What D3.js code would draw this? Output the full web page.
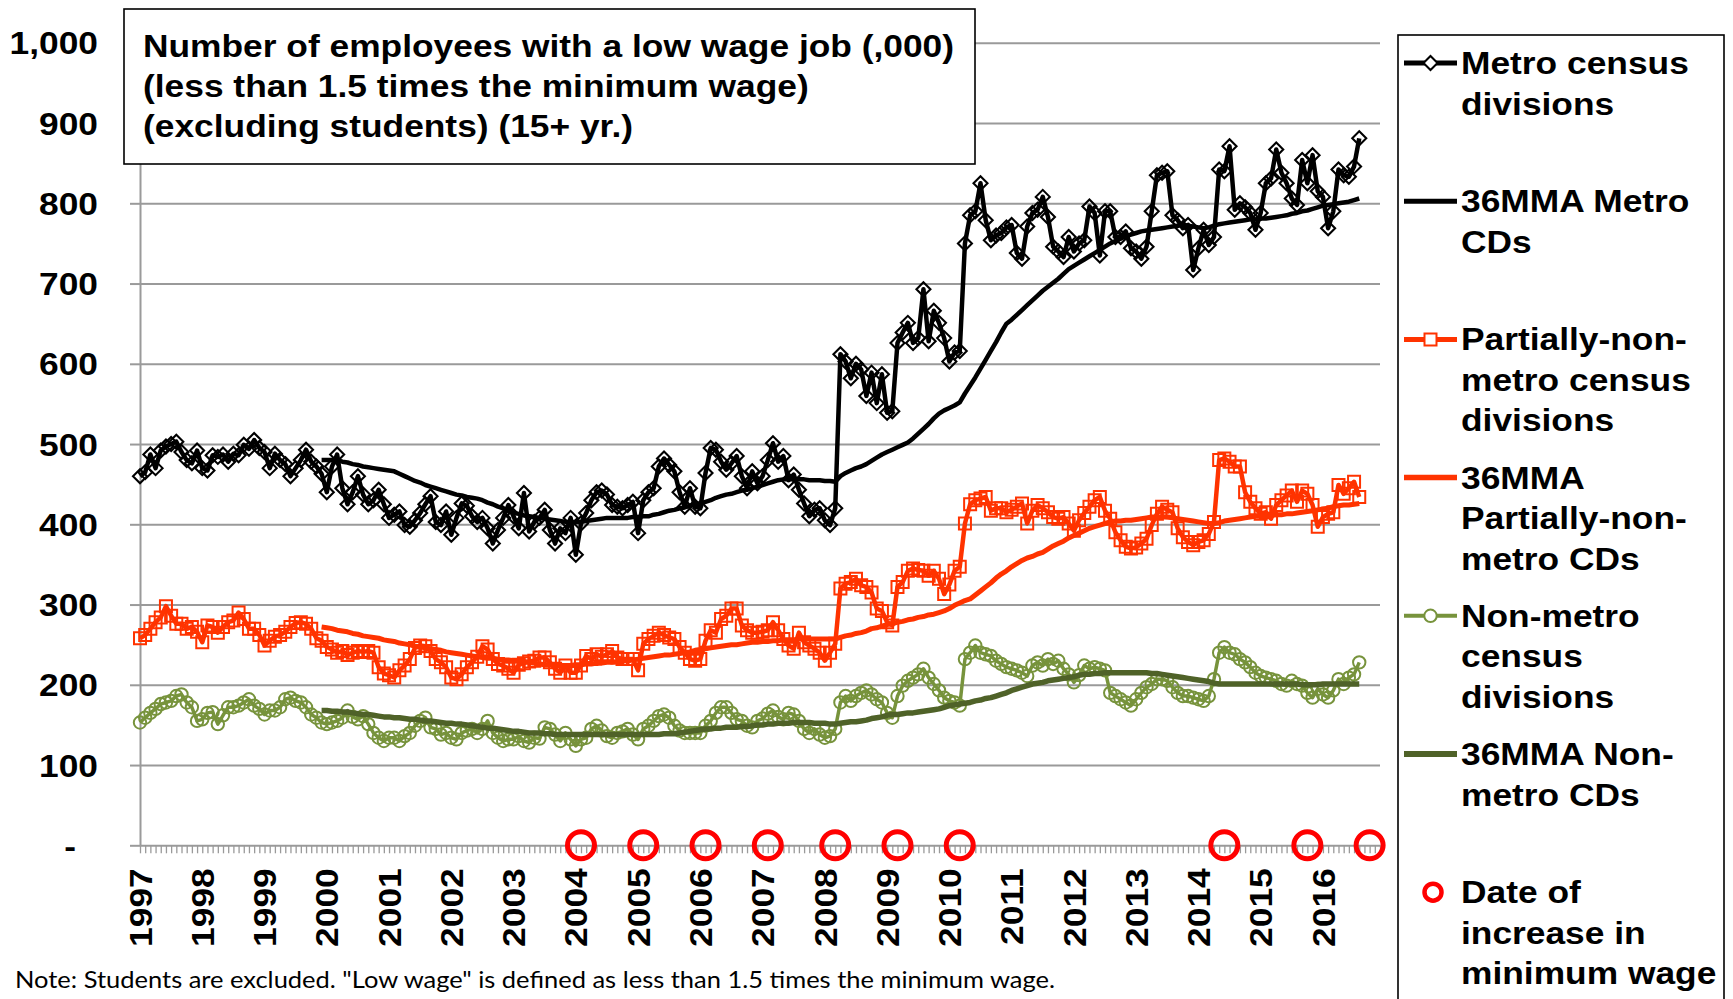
<!DOCTYPE html>
<html><head><meta charset="utf-8">
<script src="https://cdn.jsdelivr.net/npm/d3@7"></script>
<style>body{margin:0;background:#fff}svg{display:block}</style>
</head><body>
<script>
// ---------------- DATA ----------------
const years = [1997,1998,1999,2000,2001,2002,2003,2004,2005,2006,2007,2008,2009,2010,2011,2012,2013,2014,2015,2016];
const monthNums = ["01","02","03","04","05","06","07","08","09","10","11","12"];
const dataStartMonth = "1997-01";
const mmaStartMonth = "1999-12";
const yTicks = [0,100,200,300,400,500,600,700,800,900,1000];

const metro = [
 460,465,487,470,492,497,500,503,490,480,476,492,
 470,467,486,484,487,478,488,486,499,494,505,495,
 490,470,488,480,475,460,470,480,493,478,472,463,
 440,472,487,445,425,440,460,437,425,430,443,425,
 408,412,416,399,397,405,414,425,435,403,399,416,
 387,408,426,423,410,403,408,395,376,393,408,424,
 410,395,439,391,403,408,418,393,376,395,389,408,
 362,401,414,430,440,442,437,424,422,420,424,428,
 389,430,440,445,472,482,474,466,440,422,445,422,
 420,464,495,493,478,468,476,485,460,445,466,451,
 460,480,501,478,485,455,462,443,426,410,418,420,
 405,399,420,612,603,582,600,593,560,589,551,587,
 539,541,626,639,651,626,632,693,628,666,651,632,
 603,614,616,750,785,790,825,779,754,760,763,770,
 773,738,731,771,788,792,808,783,746,740,733,758,
 740,750,754,796,788,735,790,790,758,758,765,744,
 740,731,746,790,835,838,840,785,779,769,773,717,
 744,767,748,758,842,840,871,792,800,795,788,767,
 788,825,831,867,838,825,806,798,854,825,860,815,
 808,769,790,842,835,833,846,881];

const metroMMA = [
 480,480,480,480,478,
 477,475,474,472,471,470,469,468,467,466,
 463,460,457,454,452,449,447,445,443,441,
 439,437,436,434,433,432,430,427,425,422,
 420,417,414,413,411,410,409,408,407,406,
 405,404,403,403,403,403,404,405,406,407,
 408,408,408,408,408,409,409,410,410,412,
 413,415,417,418,420,421,423,425,426,428,
 430,433,435,437,438,440,442,443,445,447,
 449,451,453,455,456,456,456,456,456,455,
 455,455,454,454,453,460,464,467,470,472,
 475,479,483,487,490,493,496,499,502,507,
 513,519,525,532,538,542,545,548,552,563,
 573,583,594,605,616,627,639,650,655,661,
 667,673,679,685,691,696,701,706,712,718,
 722,726,730,734,738,742,746,750,753,756,
 759,761,763,765,766,767,768,769,770,771,
 772,773,772,771,770,769,770,772,774,775,
 776,777,778,779,780,780,781,781,782,783,
 784,785,787,788,790,791,793,795,797,798,
 799,800,801,802,804,806];

const partial = [
 258,262,270,278,284,298,286,276,276,270,272,266,
 253,274,272,265,272,278,280,290,282,270,270,262,
 249,255,260,262,266,272,277,278,276,270,258,255,
 247,244,240,242,237,240,242,241,242,240,222,214,
 212,209,218,224,232,246,249,248,242,232,228,222,
 209,207,213,222,228,235,248,244,232,226,224,220,
 215,225,227,229,230,234,234,228,220,215,224,215,
 215,224,236,232,238,235,238,242,234,232,232,232,
 218,251,257,261,265,262,259,257,247,240,232,230,
 232,255,268,265,282,286,295,295,274,268,265,265,
 266,268,278,268,257,249,245,265,253,249,245,240,
 230,240,251,320,326,328,332,324,322,315,295,292,
 278,274,322,328,342,345,343,342,336,342,332,313,
 325,342,347,401,425,430,432,434,417,420,420,415,
 418,422,426,401,417,424,420,415,409,407,409,401,
 392,405,414,422,430,434,417,407,390,380,372,370,
 371,376,382,399,413,422,418,415,395,384,378,374,
 378,380,388,403,480,482,478,472,472,440,428,420,
 413,415,407,424,430,436,442,428,442,438,424,397,
 409,413,415,449,438,445,453,434];

const partialMMA = [
 272,271,270,268,267,
 266,264,263,261,260,259,258,256,255,254,
 252,251,250,248,247,246,245,244,243,241,
 240,239,238,237,236,235,234,233,233,232,
 231,231,230,229,229,228,227,226,225,225,
 224,224,224,224,225,225,226,226,227,227,
 228,228,229,230,230,231,232,233,234,235,
 236,237,237,238,239,240,241,243,244,245,
 246,247,248,249,250,250,251,252,253,253,
 254,254,255,255,256,256,256,257,257,257,
 257,257,257,257,257,259,261,262,264,265,
 267,270,271,273,275,276,278,279,281,282,
 284,285,287,288,290,292,295,299,302,305,
 307,312,317,322,327,333,338,342,347,351,
 355,358,360,363,365,369,373,376,379,383,
 386,389,392,395,397,399,401,403,404,404,
 405,405,406,407,408,409,409,409,409,408,
 407,406,405,404,403,402,401,401,402,404,
 405,406,407,408,409,410,410,411,411,412,
 412,413,413,414,415,416,417,418,419,420,
 422,423,424,424,425,426];

const nonMetro = [
 153,159,165,170,176,178,180,186,188,178,172,155,
 157,165,166,151,162,172,172,174,178,182,174,170,
 163,168,168,172,182,184,180,178,172,163,159,153,
 151,153,155,159,168,160,157,161,151,140,134,130,
 134,134,130,136,140,149,155,159,147,145,138,140,
 134,132,140,143,145,140,145,155,140,134,130,132,
 132,136,130,128,134,133,147,145,138,130,140,132,
 124,132,134,145,149,143,136,134,140,142,145,138,
 132,145,149,155,161,163,159,149,143,140,140,140,
 140,149,155,165,172,172,165,157,155,149,147,155,
 158,164,168,160,157,165,163,155,145,140,145,138,
 134,136,145,178,186,180,186,190,193,188,182,178,
 165,159,186,199,205,209,213,220,209,201,193,184,
 180,178,174,232,240,249,240,238,236,230,226,222,
 220,218,215,211,224,228,224,232,226,230,220,213,
 203,212,224,220,222,220,218,190,186,182,178,174,
 182,190,197,201,207,207,205,197,190,186,186,184,
 182,180,186,207,240,247,240,238,232,228,222,215,
 211,209,207,205,201,199,205,201,199,190,184,195,
 188,184,193,207,201,209,213,228];

const nonMetroMMA = [
 168,168,167,167,166,
 166,165,164,163,163,162,161,160,160,159,
 159,158,157,157,156,155,155,154,153,152,
 152,151,151,150,149,148,147,146,146,145,
 144,143,142,142,141,140,140,140,139,139,
 138,138,138,138,138,138,138,138,138,138,
 138,138,138,138,138,138,138,138,138,138,
 138,139,139,139,140,141,142,143,144,145,
 145,146,146,147,147,147,148,148,149,150,
 150,151,151,152,152,152,153,153,153,153,
 152,152,152,151,151,152,153,154,154,155,
 156,158,159,160,162,163,163,164,165,165,
 166,167,168,169,170,172,174,175,176,177,
 178,180,181,183,184,186,188,190,193,195,
 197,199,201,202,203,205,206,207,208,209,
 210,212,213,213,214,214,215,215,215,215,
 215,215,215,215,215,214,214,213,212,211,
 210,209,208,207,206,205,204,202,201,201,
 201,201,201,201,201,201,201,201,201,201,
 201,201,201,201,200,200,200,200,201,201,
 201,201,201,201,201,201];

const wageIncreaseMonths = ["2004-02","2005-02","2006-02","2007-02","2008-03","2009-03","2010-03","2014-06","2015-10","2016-10"];

const titleLines = [
 "Number of employees with a low wage job (,000)",
 "(less than 1.5 times the minimum wage)",
 "(excluding students) (15+ yr.)"];

const legendEntries = [
 {key:"metro", lines:["Metro census","divisions"]},
 {key:"metroMMA", lines:["36MMA Metro","CDs"]},
 {key:"partial", lines:["Partially-non-","metro census","divisions"]},
 {key:"partialMMA", lines:["36MMA","Partially-non-","metro CDs"]},
 {key:"nonMetro", lines:["Non-metro","census","divisions"]},
 {key:"nonMetroMMA", lines:["36MMA Non-","metro CDs"]},
 {key:"wage", lines:["Date of","increase in","minimum wage"]}];

const noteText = 'Note: Students are excluded. "Low wage" is defined as less than 1.5 times the minimum wage.';

// ---------------- CHART ----------------
const months = years.flatMap(yr => monthNums.map(m => yr + "-" + m));
const W = 1733, H = 999;
const FONT = "'Liberation Sans', Arial, sans-serif";
const STRETCH = 1.14;
const PL = 140, PR = 1380, PT = 42.8, PB = 845.3;

const svg = d3.select("body").append("svg").attr("width", W).attr("height", H)
  .style("font-family", FONT);

function stretch(sel, k) {
  sel.each(function () {
    const L = this.getComputedTextLength();
    d3.select(this).attr("textLength", L * k).attr("lengthAdjust", "spacingAndGlyphs");
  });
}

const x = d3.scalePoint().domain(months).range([PL, PR]);
const y = d3.scaleLinear().domain([0, 1000]).range([PB, PT]);

const styles = {
  metro:       {color:"#000000", width:4.5, marker:"diamond", mw:2.1},
  metroMMA:    {color:"#000000", width:4.5, marker:null},
  partial:     {color:"#FF3300", width:4.5, marker:"square", mw:2},
  partialMMA:  {color:"#FF3300", width:5,   marker:null},
  nonMetro:    {color:"#77933C", width:3.5, marker:"circle", mw:2},
  nonMetroMMA: {color:"#4F6228", width:5.5, marker:null}
};

const diamondType = {draw(ctx, size){ const r = Math.sqrt(size/2); ctx.moveTo(0,-r); ctx.lineTo(r,0); ctx.lineTo(0,r); ctx.lineTo(-r,0); ctx.closePath(); }};
const markerGen = {
  diamond: d3.symbol().type(diamondType).size(2*7*7),
  square:  d3.symbol().type(d3.symbolSquare).size(12*12),
  circle:  d3.symbol().type(d3.symbolCircle).size(Math.PI*6.2*6.2)
};

// gridlines
svg.append("g").attr("transform", `translate(${PL},0)`)
  .call(d3.axisLeft(y).tickValues(yTicks.filter(v => v > 0)).tickSize(-(PR - PL)).tickFormat(""))
  .call(g => g.select(".domain").remove())
  .call(g => g.selectAll("line").attr("stroke", "#9a9a9a").attr("stroke-width", 2));

// y axis
const yAxis = svg.append("g").attr("transform", `translate(${PL},0)`)
  .call(d3.axisLeft(y).tickValues(yTicks).tickSize(10).tickSizeOuter(0).tickPadding(32)
        .tickFormat(d => d === 0 ? "-" : d3.format(",")(d)));
yAxis.select(".domain").attr("stroke", "#9a9a9a").attr("stroke-width", 2);
yAxis.selectAll("line").attr("stroke", "#9a9a9a").attr("stroke-width", 2);
yAxis.selectAll("text").attr("font-size", 31).attr("font-weight", "bold").attr("fill", "#000")
  .attr("font-family", FONT).attr("dy", "0.36em");
yAxis.selectAll(".tick").filter(d => d === 0).select("text").attr("dx", -22);
stretch(yAxis.selectAll("text"), STRETCH);

// x axis
const xAxis = svg.append("g").attr("transform", `translate(0,${PB})`)
  .call(d3.axisBottom(x).tickValues(months).tickSize(8).tickSizeOuter(0)
        .tickFormat(d => d.endsWith("-01") ? d.slice(0, 4) : ""));
xAxis.select(".domain").attr("stroke", "#9a9a9a").attr("stroke-width", 2);
xAxis.selectAll("line").attr("stroke", "#9a9a9a").attr("stroke-width", 1.3);
xAxis.selectAll("text").attr("font-size", 31).attr("font-weight", "bold").attr("fill", "#000")
  .attr("font-family", FONT)
  .attr("transform", "rotate(-90)").attr("text-anchor", "end")
  .attr("x", -23).attr("y", 0).attr("dy", "0.36em");
stretch(xAxis.selectAll("text").filter(function(){ return this.textContent !== ""; }), STRETCH);

// series
const startIdx = m => months.indexOf(m);
function drawSeries(values, startMonth, key) {
  const s = styles[key], i0 = startIdx(startMonth);
  const pts = values.map((v, i) => [x(months[i0 + i]), y(v)]);
  const g = svg.append("g");
  g.append("path").attr("d", d3.line()(pts)).attr("fill", "none")
    .attr("stroke", s.color).attr("stroke-width", s.width).attr("stroke-linejoin", "round");
  if (s.marker) {
    g.selectAll("path.m").data(pts).join("path").attr("class", "m")
      .attr("transform", d => `translate(${d[0]},${d[1]})`)
      .attr("d", markerGen[s.marker]()).attr("fill", "none")
      .attr("stroke", s.color).attr("stroke-width", s.mw);
  }
}
drawSeries(metro, dataStartMonth, "metro");
drawSeries(metroMMA, mmaStartMonth, "metroMMA");
drawSeries(partial, dataStartMonth, "partial");
drawSeries(partialMMA, mmaStartMonth, "partialMMA");
drawSeries(nonMetro, dataStartMonth, "nonMetro");
drawSeries(nonMetroMMA, mmaStartMonth, "nonMetroMMA");

// minimum wage increase markers
svg.append("g").selectAll("circle").data(wageIncreaseMonths).join("circle")
  .attr("cx", d => x(d)).attr("cy", y(0)).attr("r", 13.5)
  .attr("fill", "none").attr("stroke", "#FF0000").attr("stroke-width", 5);

// title box
svg.append("rect").attr("x", 124).attr("y", 9).attr("width", 851).attr("height", 155)
  .attr("fill", "#fff").attr("stroke", "#000").attr("stroke-width", 1.6);
const tt = svg.append("g").selectAll("text").data(titleLines).join("text")
  .attr("x", 143).attr("y", (d, i) => 57 + i * 40)
  .attr("font-size", 31).attr("font-weight", "bold").attr("fill", "#000").text(d => d);
stretch(tt, STRETCH);

// legend
svg.append("rect").attr("x", 1398).attr("y", 35).attr("width", 326).attr("height", 1000)
  .attr("fill", "#fff").attr("stroke", "#000").attr("stroke-width", 1.6);
const lg = svg.append("g");
legendEntries.forEach((e, k) => {
  const cy = 63 + k * 138.2;
  if (e.key === "wage") {
    lg.append("circle").attr("cx", 1433).attr("cy", cy).attr("r", 8.5)
      .attr("fill", "none").attr("stroke", "#FF0000").attr("stroke-width", 4.5);
  } else {
    const s = styles[e.key];
    lg.append("line").attr("x1", 1404).attr("x2", 1457).attr("y1", cy).attr("y2", cy)
      .attr("stroke", s.color).attr("stroke-width", s.width + 0.5);
    if (s.marker) {
      lg.append("path").attr("transform", `translate(1430.5,${cy})`)
        .attr("d", markerGen[s.marker]()).attr("fill", "#fff")
        .attr("stroke", s.color).attr("stroke-width", s.mw);
    }
  }
  const t = lg.selectAll(null).data(e.lines).join("text")
    .attr("x", 1461).attr("y", (d, i) => cy + 11 + i * 40.5)
    .attr("font-size", 31).attr("font-weight", "bold").attr("fill", "#000").text(d => d);
  stretch(t, STRETCH);
});

// note
const nt = svg.append("text").attr("x", 15).attr("y", 988)
  .attr("font-family", "Lato, 'Open Sans', sans-serif").attr("font-size", 23).attr("fill", "#000")
  .text(noteText);
nt.attr("textLength", 1040).attr("lengthAdjust", "spacingAndGlyphs");
</script>
</body></html>
